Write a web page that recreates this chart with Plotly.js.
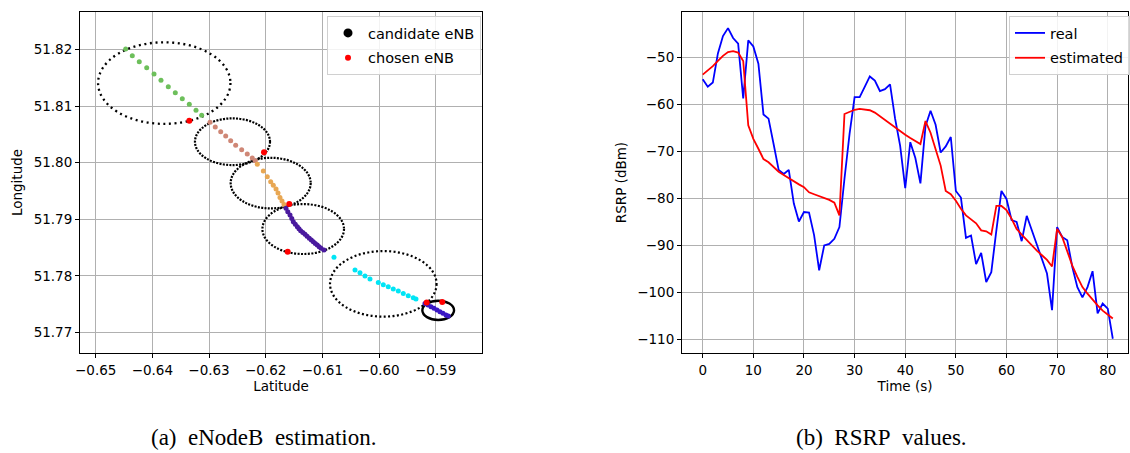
<!DOCTYPE html>
<html>
<head>
<meta charset="utf-8">
<script src="https://cdn.plot.ly/plotly-3.0.1.min.js"></script>
<style>
html,body{margin:0;padding:0;background:#fff;}
#chart{width:1130px;height:453px;}
</style>
</head>
<body>
<div id="chart"></div>
<script>
// ---------- Panel (a): eNodeB estimation ----------
// candidate eNB ellipses (centre longitude/latitude and radii)
const ellipseCx = [-0.6379, -0.62586, -0.61912, -0.61338, -0.59925, -0.58956];
const ellipseCy = [51.8141, 51.80372, 51.7964, 51.78827, 51.77857, 51.77388];
const ellipseRx = [0.01168, 0.00662, 0.00706, 0.0072, 0.0094, 0.0028];
const ellipseRy = [0.00722, 0.00413, 0.00448, 0.00442, 0.0058, 0.0017];

// trajectory segments
const greenX = [-0.64471,-0.64354,-0.64231,-0.64100,-0.63971,-0.63848,-0.63719,-0.63595,-0.63472,-0.63348,-0.63230,-0.63130];
const greenY = [51.82012,51.81894,51.81788,51.81681,51.81570,51.81458,51.81345,51.81239,51.81133,51.81034,51.80927,51.80839];
const salmonX = [-0.62983,-0.62890,-0.62794,-0.62706,-0.62618,-0.62530,-0.62424,-0.62325,-0.62237,-0.62184];
const salmonY = [51.80715,51.80632,51.80549,51.80473,51.80389,51.80308,51.80230,51.80154,51.80083,51.80035];
const orangeX = [-0.62148,-0.62042,-0.61972,-0.61912,-0.61866,-0.61818,-0.61783,-0.61748,-0.61712,-0.61677];
const orangeY = [51.79972,51.79853,51.79752,51.79664,51.79600,51.79535,51.79464,51.79384,51.79322,51.79260];
const indigoX = [-0.61642,-0.61610,-0.61571,-0.61540,-0.61513,-0.61478,-0.61442,-0.61413,-0.61383,-0.61345,-0.61306,-0.61270,-0.61231,-0.61195,-0.61160,-0.61125,-0.61090,-0.61057,-0.61024,-0.60971];
const indigoY = [51.79193,51.79135,51.79074,51.79015,51.78956,51.78912,51.78867,51.78830,51.78796,51.78765,51.78733,51.78698,51.78662,51.78632,51.78602,51.78572,51.78543,51.78514,51.78485,51.78455];
const cyanX = [-0.60795,-0.60424,-0.60336,-0.60248,-0.60160,-0.60013,-0.59925,-0.59837,-0.59749,-0.59660,-0.59572,-0.59484,-0.59396,-0.59348];
const cyanY = [51.78326,51.78101,51.78053,51.77995,51.77942,51.77883,51.77841,51.77805,51.77765,51.77729,51.77688,51.77646,51.77611,51.77588];
const violetX = [-0.59189,-0.59136,-0.59083,-0.59030,-0.58977,-0.58925,-0.58872,-0.58819,-0.58778];
const violetY = [51.77511,51.77481,51.77451,51.77423,51.77393,51.77363,51.77335,51.77305,51.77287];

// chosen eNBs
const chosenX = [-0.63348,-0.62030,-0.61584,-0.61612,-0.59159,-0.58884];
const chosenY = [51.80743,51.80184,51.79269,51.78425,51.77529,51.77535];

const latTicks = [-0.65,-0.64,-0.63,-0.62,-0.61,-0.60,-0.59];
const latTickText = ["\u22120.65","\u22120.64","\u22120.63","\u22120.62","\u22120.61","\u22120.60","\u22120.59"];
const lonTicks = [51.77,51.78,51.79,51.80,51.81,51.82];

// ---------- Panel (b): RSRP values ----------
const timeS = [0,1,2,3,4,5,6,7,8,9,10,11,12,13,14,15,16,17,18,19,20,21,22,23,24,25,26,27,28,29,30,31,32,33,34,35,36,37,38,39,40,41,42,43,44,45,46,47,48,49,50,51,52,53,54,55,56,57,58,59,60,61,62,63,64,65,66,67,68,69,70,71,72,73,74,75,76,77,78,79,80,81];
const rsrpReal = [-54.6,-56.2,-55.3,-49.1,-45.4,-43.7,-45.8,-47.0,-58.7,-46.3,-47.6,-51.3,-62.1,-63.0,-68.4,-73.9,-74.8,-73.9,-81.1,-84.9,-82.9,-83.0,-87.8,-95.3,-90.0,-89.7,-88.6,-86.1,-75.8,-66.3,-58.4,-58.4,-56.2,-54.0,-54.9,-57.1,-56.7,-55.7,-63.0,-68.8,-77.8,-68.0,-71.4,-76.8,-64.6,-61.3,-64.3,-70.2,-68.9,-66.9,-78.4,-79.8,-88.4,-87.9,-94.0,-91.6,-97.8,-95.7,-86.8,-78.4,-80.1,-84.6,-85.0,-89.1,-83.7,-86.8,-89.9,-92.8,-96.0,-103.8,-86.1,-88.2,-88.9,-94.6,-98.9,-101.1,-98.9,-95.5,-104.5,-102.4,-103.5,-109.9];
const rsrpEst = [-53.6,-52.8,-51.8,-50.7,-49.6,-48.8,-48.6,-48.9,-50.7,-64.4,-67.3,-69.4,-71.6,-72.3,-73.3,-74.3,-75.0,-75.7,-76.4,-77.0,-77.6,-78.7,-79.1,-79.5,-79.9,-80.3,-80.9,-83.6,-62.0,-61.5,-61.1,-60.9,-61.0,-61.2,-61.7,-62.5,-63.3,-64.1,-64.9,-65.7,-66.4,-67.1,-67.8,-68.4,-63.5,-66.0,-69.5,-73.0,-78.4,-79.1,-80.5,-82.2,-83.6,-84.5,-85.3,-86.8,-87.0,-87.7,-81.6,-81.6,-82.5,-84.3,-86.5,-87.7,-88.9,-90.0,-91.1,-92.1,-93.1,-94.5,-86.5,-88.2,-91.1,-94.3,-96.7,-98.9,-100.3,-101.6,-102.8,-103.9,-104.7,-105.6];
const timeTicks = [0,10,20,30,40,50,60,70,80];
const rsrpTicks = [-110,-100,-90,-80,-70,-60,-50];

// ---------- build ----------
const FONT = "DejaVu Sans, sans-serif";
function seg(x, y, color, size) {
  return {x: x, y: y, type: 'scatter', mode: 'markers', xaxis: 'x', yaxis: 'y',
          marker: {color: color, size: size || 5, line: {width: 0}}, showlegend: false, hoverinfo: 'skip'};
}
const traces = [
  seg(greenX, greenY, '#6dbf5b'),
  seg(salmonX, salmonY, '#cf8776'),
  seg(orangeX, orangeY, '#e8a753'),
  seg(indigoX, indigoY, '#4a1a9e'),
  seg(cyanX, cyanY, '#00e5f5'),
  seg(violetX, violetY, '#3a18c4'),
  {x: [null], y: [null], type: 'scatter', mode: 'markers', xaxis: 'x', yaxis: 'y',
   marker: {color: 'black', size: 9}, name: 'candidate eNB', legend: 'legend', legendgroup: 'a1'},
  {x: chosenX, y: chosenY, type: 'scatter', mode: 'markers', xaxis: 'x', yaxis: 'y',
   marker: {color: '#ff0000', size: 6, line: {width: 0}}, name: 'chosen eNB', legend: 'legend', legendgroup: 'a2'},
  {x: timeS, y: rsrpReal, type: 'scatter', mode: 'lines', xaxis: 'x2', yaxis: 'y2',
   line: {color: '#0000ff', width: 1.8}, name: 'real', legend: 'legend2', legendgroup: 'b1'},
  {x: timeS, y: rsrpEst, type: 'scatter', mode: 'lines', xaxis: 'x2', yaxis: 'y2',
   line: {color: '#ff0000', width: 1.8}, name: 'estimated', legend: 'legend2', legendgroup: 'b2'}
];

const dashes = ["2px,3.6px", "2px,1.3px", "2px,1.3px", "2px,1.5px", "2px,2.4px", "solid"];
const widths = [2.3, 2.2, 2.2, 2.2, 2.2, 2.4];
const shapes = ellipseCx.map((cx, i) => ({
  type: 'circle', xref: 'x', yref: 'y', layer: 'between',
  x0: cx - ellipseRx[i], x1: cx + ellipseRx[i],
  y0: ellipseCy[i] - ellipseRy[i], y1: ellipseCy[i] + ellipseRy[i],
  line: {color: 'black', width: widths[i], dash: dashes[i]}
}));

const yDom = [1 - 353.3/453, 1 - 11.7/453];
const axCommon = {
  showgrid: true, gridcolor: '#b0b0b0', gridwidth: 1,
  showline: true, linecolor: 'black', linewidth: 1, mirror: true,
  ticks: 'outside', ticklen: 4, tickcolor: 'black', tickwidth: 1,
  zeroline: false, tickfont: {family: FONT, size: 13.5, color: 'black'}
};
const legCommon = {
  yanchor: 'top', y: 1 - 16/453,
  bgcolor: 'rgba(255,255,255,0.85)', bordercolor: '#d0d0d0', borderwidth: 1,
  font: {family: FONT, size: 14.5, color: 'black'}, itemwidth: 30, tracegroupgap: 3
};
const layout = {
  width: 1130, height: 453,
  margin: {l: 0, r: 0, t: 0, b: 0},
  paper_bgcolor: 'white', plot_bgcolor: 'white',
  font: {family: FONT, color: 'black'},
  xaxis: Object.assign({}, axCommon, {
    domain: [80/1130, 482/1130], range: [-0.65277, -0.58183], tickvals: latTicks, ticktext: latTickText,
    title: {text: 'Latitude', font: {family: FONT, size: 13.5}, standoff: 5}, anchor: 'y'}),
  yaxis: Object.assign({}, axCommon, {
    domain: yDom, range: [51.76628, 51.82673], tickvals: lonTicks, tickformat: '.2f',
    title: {text: 'Longitude', font: {family: FONT, size: 13.5}, standoff: 7}, anchor: 'x'}),
  xaxis2: Object.assign({}, axCommon, {
    domain: [682/1130, 1128/1130], range: [-4.09, 84.0], tickvals: timeTicks,
    title: {text: 'Time (s)', font: {family: FONT, size: 13.5}, standoff: 5}, anchor: 'y2'}),
  yaxis2: Object.assign({}, axCommon, {
    domain: yDom, range: [-113.0, -40.2], tickvals: rsrpTicks,
    title: {text: 'RSRP (dBm)', font: {family: FONT, size: 13.5}, standoff: 7}, anchor: 'x2'}),
  legend: Object.assign({}, legCommon, {x: 481/1130, xanchor: 'right'}),
  legend2: Object.assign({}, legCommon, {x: 1.0, xanchor: 'right'}),
  shapes: shapes,
  annotations: [
    {text: '(a)\u00a0 eNodeB\u00a0 estimation.', xref: 'paper', yref: 'paper', x: 263/1130, y: 1 - 437/453,
     xanchor: 'center', yanchor: 'middle', showarrow: false,
     font: {family: 'Liberation Serif, Times New Roman, serif', size: 23, color: 'black'}},
    {text: '(b)\u00a0 RSRP\u00a0 values.', xref: 'paper', yref: 'paper', x: 881/1130, y: 1 - 437/453,
     xanchor: 'center', yanchor: 'middle', showarrow: false,
     font: {family: 'Liberation Serif, Times New Roman, serif', size: 23, color: 'black'}}
  ],
  showlegend: true
};
Plotly.newPlot('chart', traces, layout, {displayModeBar: false, staticPlot: true});
</script>
</body>
</html>
